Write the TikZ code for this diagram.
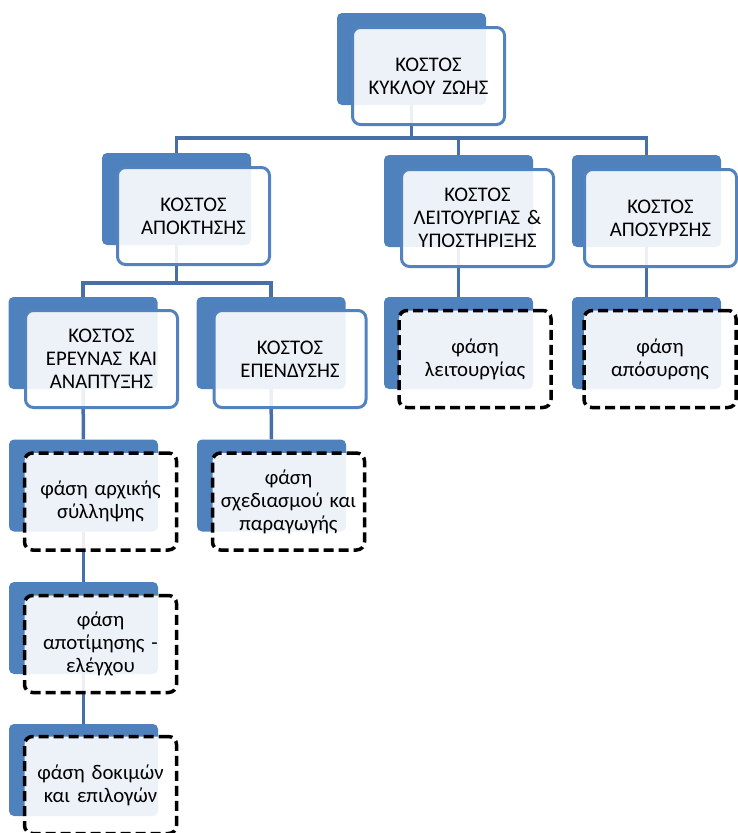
\documentclass[tikz,border=0pt]{standalone}
\usepackage{fontspec}
\setmainfont{Carlito}
\definecolor{backblue}{HTML}{4F81BD}
\definecolor{frameblue}{HTML}{5283BF}
\definecolor{lineblue}{HTML}{4770A8}
\begin{document}
\begin{tikzpicture}[x=1pt,y=-1pt,
  back/.style={draw=none, fill=backblue, rounded corners=5pt,
    minimum width=149pt, minimum height=92pt, inner sep=0pt},
  front/.style={draw=frameblue, line width=3pt, fill=white, fill opacity=0.9,
    text opacity=1, rounded corners=8pt, minimum width=152pt, minimum height=97pt,
    align=center, text width=152pt, inner sep=0pt,
    font=\fontsize{20.8}{23}\selectfont},
  phase/.style={front, draw=black, line width=3.5pt, dash pattern=on 10pt off 5pt},
  link/.style={draw=lineblue, line width=3.5pt}
]
\useasboundingbox (0,0) rectangle (737,833);

% coloured back plates
\node[back] (top)    at (411.5,59)  {};
\node[back] (acq)    at (176.5,199) {};
\node[back] (ops)    at (458.5,201) {};
\node[back] (disp)   at (646.5,201) {};
\node[back] (rnd)    at (83,343)    {};
\node[back] (inv)    at (271,343)   {};
\node[back] (opsph)  at (458.5,343) {};
\node[back] (dispph) at (646.5,343) {};
\node[back] (concept) at (83.5,485.5) {};
\node[back] (design) at (271.5,485.5) {};
\node[back] (eval)   at (83.5,628)  {};
\node[back] (test)   at (83.5,770)  {};

% tree connectors
\coordinate (bar1) at (411.5,138);
\coordinate (bar2) at (176.5,283);
\draw[link] (top.south) -- (bar1);
\draw[link] (acq.north) |- (bar1);
\draw[link] (ops.north) |- (bar1);
\draw[link] (disp.north) |- (bar1);
\draw[link] (acq.south) -- (bar2);
\draw[link] (rnd.north) |- (bar2);
\draw[link] (inv.north) |- (bar2);
\draw[link] (ops.south) -- (opsph.north);
\draw[link] (disp.south) -- (dispph.north);
\draw[link] (rnd.south) -- (concept.north);
\draw[link] (inv.south) -- (design.north);
\draw[link] (concept.south) -- (eval.north);
\draw[link] (eval.south) -- (test.north);

% front cards
\node[front] (topF)  at (428.5,76)  {ΚΟΣΤΟΣ\\ΚΥΚΛΟΥ ΖΩΗΣ};
\node[front] (acqF)  at (193.5,216) {ΚΟΣΤΟΣ\\ΑΠΟΚΤΗΣΗΣ};
\node[front] (opsF)  at (477.5,218) {ΚΟΣΤΟΣ\\ΛΕΙΤΟΥΡΓΙΑΣ \&\\ΥΠΟΣΤΗΡΙΞΗΣ};
\node[front] (dispF) at (660.5,218) {ΚΟΣΤΟΣ\\ΑΠΟΣΥΡΣΗΣ};
\node[front] (rndF)  at (101.5,359) {ΚΟΣΤΟΣ\\ΕΡΕΥΝΑΣ ΚΑΙ\\ΑΝΑΠΤΥΞΗΣ};
\node[front] (invF)  at (290,359)   {ΚΟΣΤΟΣ\\ΕΠΕΝΔΥΣΗΣ};
\node[phase] (opsphF)  at (475,359)  {φάση\\λειτουργίας};
\node[phase] (dispphF) at (660,359)  {φάση\\απόσυρσης};
\node[phase] (conceptF) at (100.5,501.5) {φάση αρχικής\\σύλληψης};
\node[phase] (designF) at (288.5,501.5) {φάση\\σχεδιασμού και\\παραγωγής};
\node[phase] (evalF) at (100.5,644) {φάση\\αποτίμησης -\\ελέγχου};
\node[phase] (testF) at (100.5,785) {φάση δοκιμών\\και επιλογών};
\end{tikzpicture}
\end{document}
